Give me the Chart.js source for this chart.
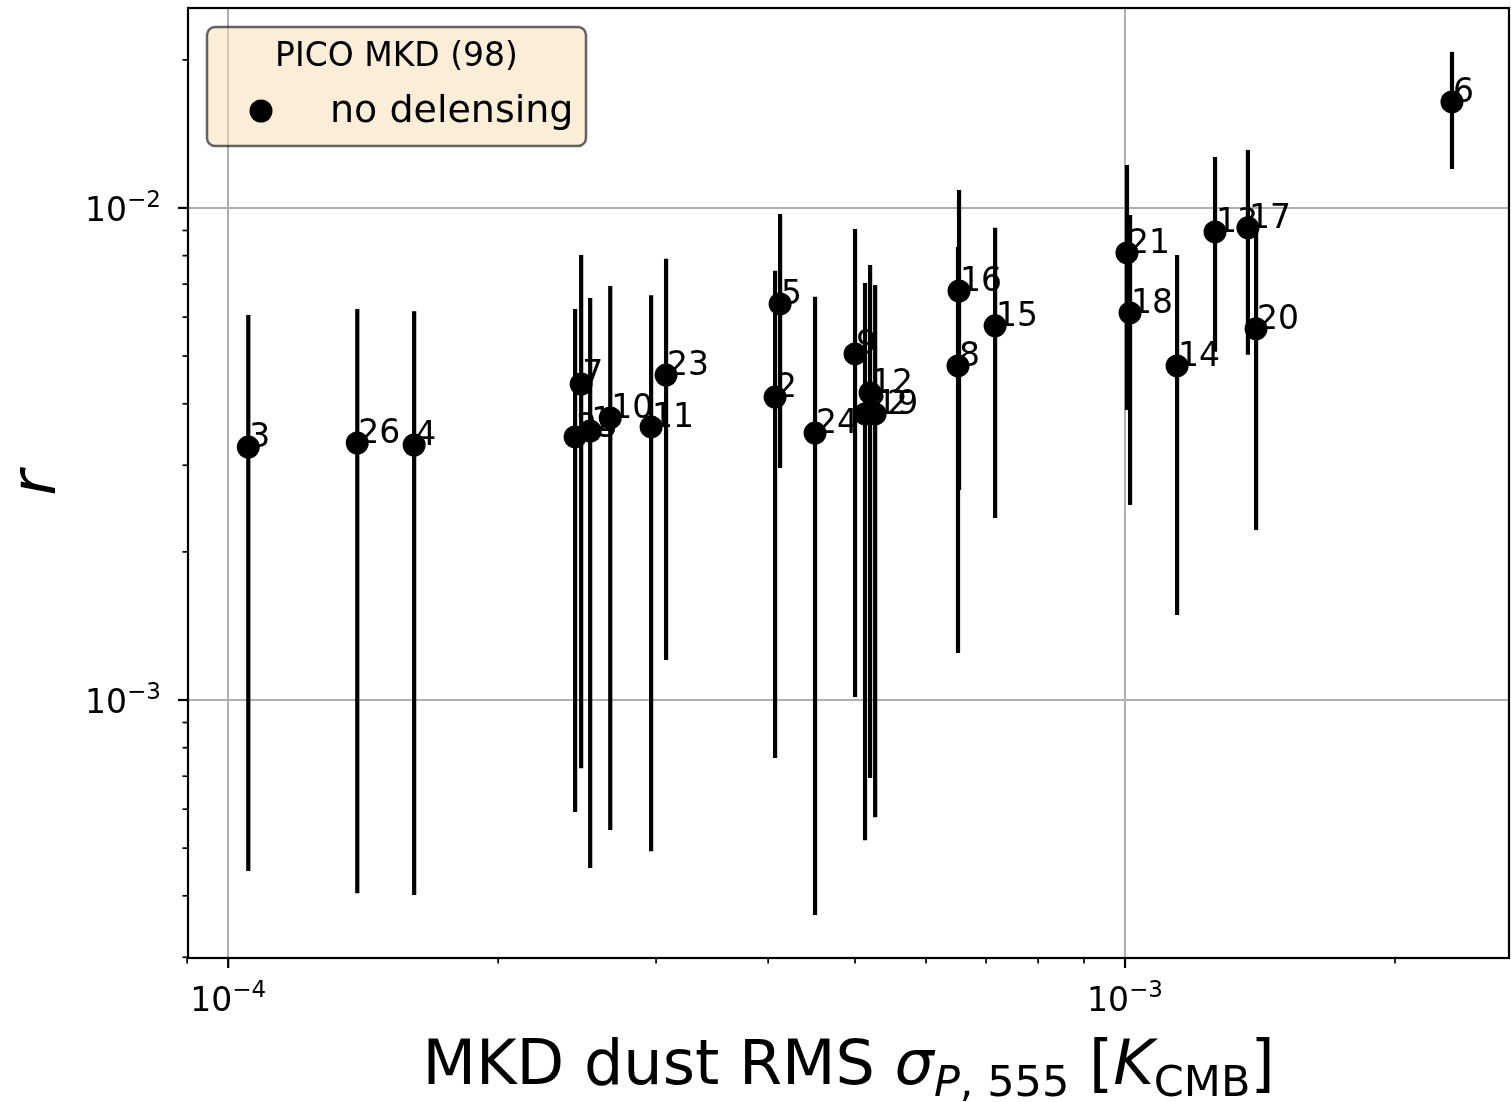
<!DOCTYPE html>
<html>
<head>
<meta charset="utf-8">
<script src="https://cdn.jsdelivr.net/npm/chart.js@4.4.1/dist/chart.umd.min.js"></script>
<style>
  html, body { margin: 0; padding: 0; background: #fff; }
  #wrap { width: 1511px; height: 1102px; }
</style>
</head>
<body>
<div id="wrap"><canvas id="rChart" width="1511" height="1102"></canvas></div>
<script>
// one entry per simulation
const pointLabels = ['3', '26', '4', '25', '7', '1', '10', '11', '23', '2', '5', '24', '9',
                     '22', '12', '19', '16', '8', '15', '21', '18', '14', '13', '17', '20', '6'];
const sigmaP = [1.053e-4, 1.393e-4, 1.612e-4, 2.437e-4, 2.475e-4, 2.533e-4, 2.667e-4, 2.962e-4,
                3.078e-4, 4.072e-4, 4.125e-4, 4.512e-4, 5.000e-4, 5.130e-4, 5.197e-4, 5.265e-4,
                6.530e-4, 6.513e-4, 7.164e-4, 1.005e-3, 1.013e-3, 1.143e-3, 1.260e-3, 1.371e-3,
                1.400e-3, 2.315e-3];
const rValues = [3.267e-3, 3.329e-3, 3.298e-3, 3.424e-3, 4.387e-3, 3.521e-3, 3.743e-3, 3.588e-3,
                 4.576e-3, 4.128e-3, 6.38e-3, 3.488e-3, 5.05e-3, 3.814e-3, 4.207e-3, 3.814e-3,
                 6.78e-3, 4.775e-3, 5.76e-3, 8.10e-3, 6.12e-3, 4.775e-3, 8.94e-3, 9.11e-3,
                 5.68e-3, 1.642e-2];
const rUpper = [6.06e-3, 6.23e-3, 6.17e-3, 6.23e-3, 8.02e-3, 6.56e-3, 6.94e-3, 6.65e-3,
                7.88e-3, 7.45e-3, 9.72e-3, 6.60e-3, 9.06e-3, 7.04e-3, 7.66e-3, 6.97e-3,
                1.088e-2, 8.33e-3, 9.11e-3, 1.223e-2, 9.68e-3, 8.02e-3, 1.270e-2, 1.312e-2,
                9.11e-3, 2.076e-2];
const rLower = [4.49e-4, 4.05e-4, 4.015e-4, 5.92e-4, 7.27e-4, 4.555e-4, 5.44e-4, 4.93e-4,
                1.206e-3, 7.62e-4, 2.96e-3, 3.656e-4, 1.014e-3, 5.19e-4, 6.94e-4, 5.78e-4,
                2.672e-3, 1.246e-3, 2.344e-3, 3.885e-3, 2.49e-3, 1.489e-3, 5.10e-3, 5.03e-3,
                2.216e-3, 1.200e-2];

const xMajorTicks = [1e-4, 1e-3];
const xMajorExps = ['\u22124', '\u22123'];
const xMinorTicks = [9e-5, 2e-4, 3e-4, 4e-4, 5e-4, 6e-4, 7e-4, 8e-4, 9e-4, 2e-3];
const yMajorTicks = [1e-3, 1e-2];
const yMajorExps = ['\u22123', '\u22122'];
const yMinorTicks = [3e-4, 4e-4, 5e-4, 6e-4, 7e-4, 8e-4, 9e-4,
                     2e-3, 3e-3, 4e-3, 5e-3, 6e-3, 7e-3, 8e-3, 9e-3, 2e-2];

const legendTitle = 'PICO MKD (98)';
const seriesName = 'no delensing';

const FONT = '"DejaVu Sans", sans-serif';

function font(size, italic) {
    return (italic ? 'italic ' : '') + size + 'px ' + FONT;
}

// draw a row of text pieces (mathtext style)
function drawPieces(ctx, pieces, x, y, align) {
    let w = 0;
    pieces.forEach(p => { ctx.font = font(p.s, p.i); w += ctx.measureText(p.t).width; });
    let cx = align === 'right' ? x - w : (align === 'left' ? x : x - w / 2);
    ctx.textAlign = 'left';
    ctx.textBaseline = 'alphabetic';
    pieces.forEach(p => {
        ctx.font = font(p.s, p.i);
        ctx.fillText(p.t, cx, y + (p.dy || 0));
        cx += ctx.measureText(p.t).width;
    });
}

function buildTicks(majors, minors) {
    return majors.map(v => ({ value: v, major: true }))
        .concat(minors.map(v => ({ value: v, major: false })));
}

const decor = {
    id: 'decor',
    beforeDatasetsDraw(chart) {
        const { ctx, scales: { x, y } } = chart;
        ctx.save();
        ctx.strokeStyle = '#000';
        ctx.lineWidth = 4.2;
        sigmaP.forEach((v, i) => {
            const px = x.getPixelForValue(v);
            ctx.beginPath();
            ctx.moveTo(px, y.getPixelForValue(rLower[i]));
            ctx.lineTo(px, y.getPixelForValue(rUpper[i]));
            ctx.stroke();
        });
        ctx.restore();
    },
    afterDatasetsDraw(chart) {
        const { ctx, scales: { x, y } } = chart;
        ctx.save();
        ctx.fillStyle = '#000';
        ctx.font = font(33);
        ctx.textAlign = 'left';
        ctx.textBaseline = 'alphabetic';
        sigmaP.forEach((v, i) => {
            ctx.fillText(pointLabels[i], x.getPixelForValue(v) + 1, y.getPixelForValue(rValues[i]));
        });
        ctx.restore();
    },
    afterDraw(chart) {
        const { ctx, chartArea: a, scales: { x, y } } = chart;
        ctx.save();
        ctx.strokeStyle = '#000';
        ctx.fillStyle = '#000';

        // tick marks
        x.ticks.forEach(t => {
            const px = x.getPixelForValue(t.value);
            ctx.lineWidth = t.major ? 2.2 : 1.7;
            ctx.beginPath();
            ctx.moveTo(px, a.bottom);
            ctx.lineTo(px, a.bottom + (t.major ? 10 : 5.5));
            ctx.stroke();
        });
        y.ticks.forEach(t => {
            const py = y.getPixelForValue(t.value);
            ctx.lineWidth = t.major ? 2.2 : 1.7;
            ctx.beginPath();
            ctx.moveTo(a.left, py);
            ctx.lineTo(a.left - (t.major ? 10 : 5.5), py);
            ctx.stroke();
        });

        // tick labels 10^n
        xMajorTicks.forEach((v, i) => {
            drawPieces(ctx, [{ t: '10', s: 33 }, { t: xMajorExps[i], s: 23, dy: -14 }],
                x.getPixelForValue(v), a.bottom + 53, 'center');
        });
        yMajorTicks.forEach((v, i) => {
            drawPieces(ctx, [{ t: '10', s: 33 }, { t: yMajorExps[i], s: 23, dy: -14 }],
                a.left - 27, y.getPixelForValue(v) + 13, 'right');
        });

        // spines
        ctx.lineWidth = 2.2;
        ctx.strokeRect(a.left, a.top, a.right - a.left, a.bottom - a.top);

        // axis titles
        drawPieces(ctx, [
            { t: 'MKD dust RMS ', s: 62 },
            { t: '\u03c3', s: 62, i: true },
            { t: 'P', s: 43, i: true, dy: 12 },
            { t: ', 555', s: 43, dy: 12 },
            { t: ' [', s: 62 },
            { t: 'K', s: 62, i: true },
            { t: 'CMB', s: 43, dy: 12 },
            { t: ']', s: 62 }
        ], (a.left + a.right) / 2, 1084, 'center');

        ctx.save();
        ctx.translate(55, (a.top + a.bottom) / 2);
        ctx.rotate(-Math.PI / 2);
        ctx.font = font(62, true);
        ctx.textAlign = 'center';
        ctx.textBaseline = 'alphabetic';
        ctx.fillText('r', 0, 0);
        ctx.restore();

        // legend box
        const bx = 207, by = 27, bw = 379, bh = 119, rad = 8;
        ctx.beginPath();
        ctx.roundRect(bx, by, bw, bh, rad);
        ctx.fillStyle = 'rgba(245, 222, 179, 0.5)';
        ctx.fill();
        ctx.lineWidth = 2.5;
        ctx.strokeStyle = 'rgba(0, 0, 0, 0.6)';
        ctx.stroke();

        ctx.fillStyle = '#000';
        ctx.font = font(33);
        ctx.textAlign = 'center';
        ctx.textBaseline = 'middle';
        ctx.fillText(legendTitle, bx + bw / 2, by + 30);
        ctx.beginPath();
        ctx.arc(261, 111, 11.5, 0, Math.PI * 2);
        ctx.fill();
        ctx.font = font(38);
        ctx.textAlign = 'left';
        ctx.fillText(seriesName, 330, 112);

        ctx.restore();
    }
};

const ctx = document.getElementById('rChart').getContext('2d');

new Chart(ctx, {
    type: 'scatter',
    data: {
        datasets: [{
            label: seriesName,
            data: sigmaP.map((v, i) => ({ x: v, y: rValues[i] })),
            pointRadius: 11.5,
            pointHoverRadius: 11.5,
            pointBackgroundColor: '#000',
            pointBorderWidth: 0,
            showLine: false
        }]
    },
    options: {
        responsive: false,
        animation: false,
        devicePixelRatio: 1,
        layout: { autoPadding: false, padding: { top: 8, right: 2, left: 0, bottom: 0 } },
        plugins: {
            legend: { display: false },
            tooltip: { enabled: false }
        },
        scales: {
            x: {
                type: 'logarithmic',
                min: 9.02e-5,
                max: 2.68e-3,
                bounds: 'data',
                afterBuildTicks: s => { s.ticks = buildTicks(xMajorTicks, xMinorTicks); },
                afterFit: s => { s.height = 144; },
                ticks: { display: false },
                border: { display: false },
                grid: {
                    drawTicks: false,
                    lineWidth: 2,
                    color: c => (c.tick && c.tick.major) ? '#b0b0b0' : 'rgba(0,0,0,0)'
                }
            },
            y: {
                type: 'logarithmic',
                min: 2.99e-4,
                max: 2.549e-2,
                bounds: 'data',
                afterBuildTicks: s => { s.ticks = buildTicks(yMajorTicks, yMinorTicks); },
                afterFit: s => { s.width = 188; },
                ticks: { display: false },
                border: { display: false },
                grid: {
                    drawTicks: false,
                    lineWidth: 2,
                    color: c => (c.tick && c.tick.major) ? '#b0b0b0' : 'rgba(0,0,0,0)'
                }
            }
        }
    },
    plugins: [decor]
});
</script>
</body>
</html>
